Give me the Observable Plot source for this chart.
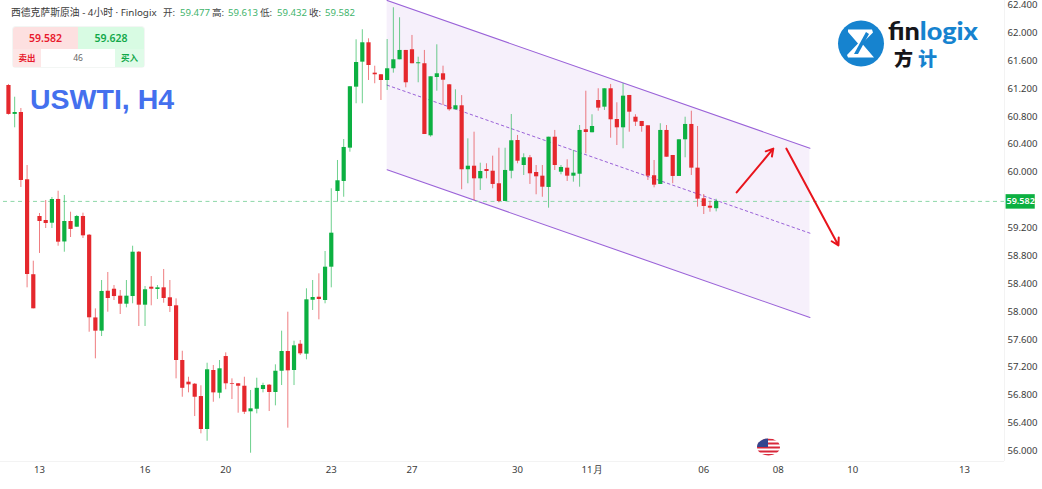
<!DOCTYPE html>
<html>
<head>
<meta charset="utf-8">
<script src="https://cdn.jsdelivr.net/npm/d3@7"></script>
<script src="https://cdn.jsdelivr.net/npm/@observablehq/plot@0.6"></script>
<style>
html,body{margin:0;padding:0;background:#fff;}
#wrap{position:relative;width:1042px;height:489px;overflow:hidden;font-family:"Noto Sans","Noto Sans CJK SC",sans-serif;}
#wrap>*{position:absolute;}
#chart{left:0;top:0;}
.h{top:6px;font-size:9.6px;line-height:14px;color:#444;white-space:nowrap;}
.v{color:#3fb46c;}
#panel{left:12px;top:26px;width:133px;height:42px;background:#f3f6f4;border-radius:4px;}
#panel div{position:absolute;text-align:center;font-family:"Noto Sans","Noto Sans CJK SC",sans-serif;}
#wm{left:30px;top:82px;font:bold 28.5px "Liberation Sans",Arial,sans-serif;color:#4470ee;line-height:34px;white-space:nowrap;}
</style>
</head>
<body>
<div id="wrap">
  <div id="chart"></div>
  <div class="h" style="left:11px;color:#3a3a3a;font-size:9.8px">西德克萨斯原油 - 4小时 · Finlogix</div>
  <div class="h" style="left:163px">开:</div><div class="h v" style="left:180px">59.477</div>
  <div class="h" style="left:212px">高:</div><div class="h v" style="left:228px">59.613</div>
  <div class="h" style="left:260px">低:</div><div class="h v" style="left:277px">59.432</div>
  <div class="h" style="left:309px">收:</div><div class="h v" style="left:325px">59.582</div>
  <div id="panel">
    <div style="left:1px;top:1px;width:65px;height:22px;line-height:22px;background:#fde0e0;color:#e8192c;font-size:10.5px;font-weight:600;border-radius:3px 0 0 0">59.582</div>
    <div style="left:66px;top:1px;width:66px;height:22px;line-height:22px;background:#d8fbe3;color:#12a84a;font-size:10.5px;font-weight:600;border-radius:0 3px 0 0">59.628</div>
    <div style="left:1px;top:23px;width:28px;height:18px;line-height:18px;background:#fde6e6;color:#e8192c;font-size:8.5px;font-weight:600">卖出</div>
    <div style="left:29px;top:23px;width:74px;height:18px;line-height:18px;background:#fff;color:#666;font-size:8.5px">46</div>
    <div style="left:103px;top:23px;width:29px;height:18px;line-height:18px;background:#dffbe8;color:#12a84a;font-size:8.5px;font-weight:600">买入</div>
  </div>
  <div id="wm">USWTI, H4</div>
  <svg style="left:830px;top:14px" width="160" height="60" viewBox="830 14 160 60">
    <circle cx="861" cy="43.5" r="23" fill="#1683cf"/>
    <path d="M848 29.5H872L873 32.5L862 43.5L874 57.5H848L847 55L858 43.5L848 32Z" fill="#fff"/>
    <path d="M866 32L854 54L858 54L869 34Z" fill="#1683cf"/>
    <text x="888" y="39.5" font-family="Lato,'Noto Sans',sans-serif" font-weight="900" font-size="25" textLength="90" lengthAdjust="spacingAndGlyphs"><tspan fill="#16161a">fin</tspan><tspan fill="#1683cf">logix</tspan></text>
    <text x="894" y="66" font-family="'Noto Sans CJK SC'" font-weight="900" font-size="19" fill="#16161a">方</text>
    <text x="918" y="66" font-family="'Noto Sans CJK SC'" font-weight="900" font-size="19" fill="#1683cf">计</text>
  </svg>
  <svg style="left:755px;top:436px" width="28" height="22" viewBox="0 0 28 22">
    <defs><clipPath id="fl"><ellipse cx="13.5" cy="11" rx="11.5" ry="8.5"/></clipPath></defs>
    <g clip-path="url(#fl)">
      <rect x="0" y="0" width="28" height="22" fill="#fff"/>
      <rect x="0" y="2.5" width="28" height="2" fill="#d8283a"/>
      <rect x="0" y="6.5" width="28" height="2" fill="#d8283a"/>
      <rect x="0" y="10.5" width="28" height="2" fill="#d8283a"/>
      <rect x="0" y="14.5" width="28" height="2" fill="#d8283a"/>
      <rect x="0" y="18" width="28" height="2" fill="#d8283a"/>
      <rect x="0" y="0" width="13" height="11" fill="#33468f"/>
    </g>
  </svg>
</div>
<script>
const opens  = [61.245,60.83,60.858,59.892,58.53,59.365,59.308,59.269,59.61,59.0,59.294,59.212,59.365,59.097,57.91,57.72,58.293,58.322,58.222,58.107,58.217,58.853,58.093,58.351,58.318,58.342,58.199,58.084,57.299,56.988,56.959,56.782,56.309,57.156,56.83,57.356,56.965,56.965,56.93,56.563,56.6,56.883,56.945,56.84,57.145,57.428,57.156,57.533,57.39,58.164,58.207,58.16,58.638,59.724,59.868,60.346,61.221,61.58,61.858,61.422,61.399,61.317,61.485,61.614,61.748,61.758,61.557,61.557,60.523,61.36,61.413,61.255,60.897,60.954,60.036,60.087,59.906,60.04,60.015,59.835,59.581,60.015,60.456,60.097,60.208,59.997,59.944,59.782,60.503,60.001,60.059,59.944,59.972,60.61,60.567,61.03,60.934,61.198,60.757,60.638,61.102,60.79,60.729,60.667,59.95,59.825,60.6,60.241,59.94,60.466,60.686,60.059,59.62,59.513,59.477];
const closes = [60.83,60.858,59.882,58.533,58.041,59.294,59.265,59.609,58.997,59.294,59.18,59.365,59.088,57.912,57.72,58.29,58.189,58.217,58.107,58.222,58.853,58.093,58.314,58.322,58.342,58.189,58.074,57.299,56.9,56.95,56.772,56.309,57.166,56.835,57.18,56.965,56.955,56.93,56.557,56.606,56.9,56.94,56.84,57.145,57.428,57.151,57.51,57.395,58.17,58.203,58.174,58.638,59.126,59.878,60.356,61.227,61.575,61.858,61.532,61.399,61.317,61.485,61.614,61.748,61.284,61.557,61.571,60.542,61.37,61.413,61.321,60.897,60.954,60.036,60.087,59.906,60.011,60.011,59.825,59.581,60.026,60.452,60.159,60.208,59.978,59.935,59.786,60.503,60.097,60.069,59.944,59.987,60.6,60.571,60.657,60.92,61.198,60.753,60.638,61.092,60.862,60.719,60.657,59.944,59.815,60.6,60.216,59.94,60.466,60.686,60.059,59.614,59.509,59.485,59.582];
const highs  = [61.26,61.077,60.915,60.097,58.724,59.408,59.595,59.638,59.728,59.667,59.427,59.38,59.413,59.107,58.04,58.447,58.562,58.375,58.304,58.447,58.939,58.863,58.361,58.504,58.375,58.605,58.447,58.184,57.432,57.059,56.969,56.936,57.26,57.227,57.299,57.409,57.036,56.969,57.059,56.869,57.045,56.973,56.955,57.237,57.72,57.992,57.576,57.586,58.328,58.447,58.543,58.863,59.763,60.169,60.47,61.231,61.901,62.045,61.915,61.522,61.403,61.905,62.36,62.217,61.748,61.963,61.651,61.748,61.37,61.829,61.522,61.26,61.183,61.1,60.48,60.575,60.13,60.122,60.231,60.345,60.345,60.829,60.528,60.265,60.241,60.097,60.097,60.503,60.6,60.097,60.179,60.313,60.671,61.163,60.825,61.198,61.198,61.26,60.997,61.27,61.102,60.825,60.729,60.667,60.169,60.696,60.671,60.241,60.466,60.79,60.876,60.657,59.681,59.585,59.613];
const lows   = [60.82,60.638,59.782,58.342,58.04,58.835,59.193,59.193,58.939,58.853,59.064,59.208,59.05,57.705,57.323,57.643,57.992,58.16,57.959,58.055,58.113,57.787,57.787,58.084,58.174,58.121,57.988,57.036,56.772,56.835,56.495,56.247,56.141,56.7,56.75,56.879,56.739,56.543,56.524,55.969,56.534,56.835,56.567,56.649,56.94,56.328,56.94,57.371,57.309,58.017,57.883,58.113,58.342,59.571,59.642,60.288,60.983,60.983,61.317,61.27,61.03,61.174,61.422,61.614,61.212,61.557,61.284,60.542,60.503,61.163,60.958,60.876,60.897,59.749,59.835,59.595,59.739,59.906,59.763,59.562,59.581,59.906,60.122,59.954,59.825,59.677,59.642,59.485,60.026,59.964,59.868,59.858,59.786,60.265,60.567,60.876,60.887,60.489,60.384,60.337,60.575,60.657,60.575,59.882,59.777,59.825,60.216,59.835,59.94,60.208,59.954,59.499,59.394,59.427,59.432];

const yTicks = [62.4,62.0,61.6,61.2,60.8,60.4,60.0,59.2,58.8,58.4,58.0,57.6,57.2,56.8,56.4,56.0];
const xTickPos = [5,22,35,52,65,82,94,112,124,136,154];
const xTickLabels = ["13","16","20","23","27","30","11月","06","08","10","13"];
const lastPrice = 59.582;

const channelX = [61,129.1];
const channelUpper = [62.465,60.345];
const channelMid = [61.25,59.126];
const channelLower = [60.036,57.916];
const arrowX1 = [117.3,125.3], arrowP1 = [59.71,60.34], arrowX2 = [123.2,133.7], arrowP2 = [60.34,58.95];

const red = "#e5282d", green = "#0cb041";
const candles = opens.map((o,i)=>({i,o,c:closes[i],h:highs[i],l:lows[i],col:closes[i]>=o?green:red}));
const channel = channelX.map((x,k)=>({x,u:channelUpper[k],m:channelMid[k],d:channelLower[k]}));
const arrows = arrowX1.map((x,k)=>({x1:x,y1:arrowP1[k],x2:arrowX2[k],y2:arrowP2[k]}));

const plotW = 1004;
const xDomain = [(0-7.96)/6.208,(plotW-7.96)/6.208];
const font = "'Noto Sans',sans-serif";

const chart = Plot.plot({
  width:1042,height:489,marginLeft:0,marginRight:38,marginTop:0,marginBottom:28,
  style:{background:"#fff",fontFamily:font,fontSize:"9.6px",color:"#3c3c3c"},
  x:{domain:xDomain,axis:null},
  y:{domain:[55.85,62.4646],axis:null},
  marks:[
    Plot.ruleY([55.85],{stroke:"#f3f3f3"}),
    Plot.ruleX([xDomain[1]],{stroke:"#f3f3f3",y1:62.4646,y2:55.85}),
    Plot.axisY({anchor:"right",ticks:yTicks,tickSize:0,tickPadding:3,label:null,tickFormat:d3.format(".3f")}),
    Plot.axisX({ticks:xTickPos,tickSize:0,tickPadding:5,label:null,tickFormat:d=>xTickLabels[xTickPos.indexOf(d)]}),
    Plot.areaY(channel,{x:"x",y1:"u",y2:"d",fill:"#f6f0fb",clip:true}),
    Plot.line(channel,{x:"x",y:"m",stroke:"#9a62d8",strokeWidth:1,strokeDasharray:"2.5,3"}),
    Plot.line(channel,{x:"x",y:"u",stroke:"#9a62d8",strokeWidth:1.1}),
    Plot.line(channel,{x:"x",y:"d",stroke:"#9a62d8",strokeWidth:1.1}),
    Plot.ruleY([lastPrice],{x1:-0.8,x2:xDomain[1],stroke:"#8dd7a8",strokeWidth:1,strokeDasharray:"4,3.5"}),
    Plot.ruleX(candles,{x:"i",y1:"l",y2:"h",stroke:"col",strokeWidth:1,strokeOpacity:0.6}),
    Plot.ruleX(candles,{x:"i",y1:"o",y2:"c",stroke:"col",strokeWidth:4.2}),
    Plot.arrow(arrows,{x1:"x1",y1:"y1",x2:"x2",y2:"y2",stroke:"#e8141c",strokeWidth:2,headLength:6,bend:0}),
    Plot.ruleY([lastPrice],{x1:160.7,x2:165.4,stroke:green,strokeWidth:14.5}),
    Plot.text([lastPrice],{x:163.05,y:d=>d,text:d=>d.toFixed(3),fill:"#fff",fontWeight:600,fontSize:9})
  ]
});
document.getElementById("chart").appendChild(chart);
</script>
</body>
</html>
